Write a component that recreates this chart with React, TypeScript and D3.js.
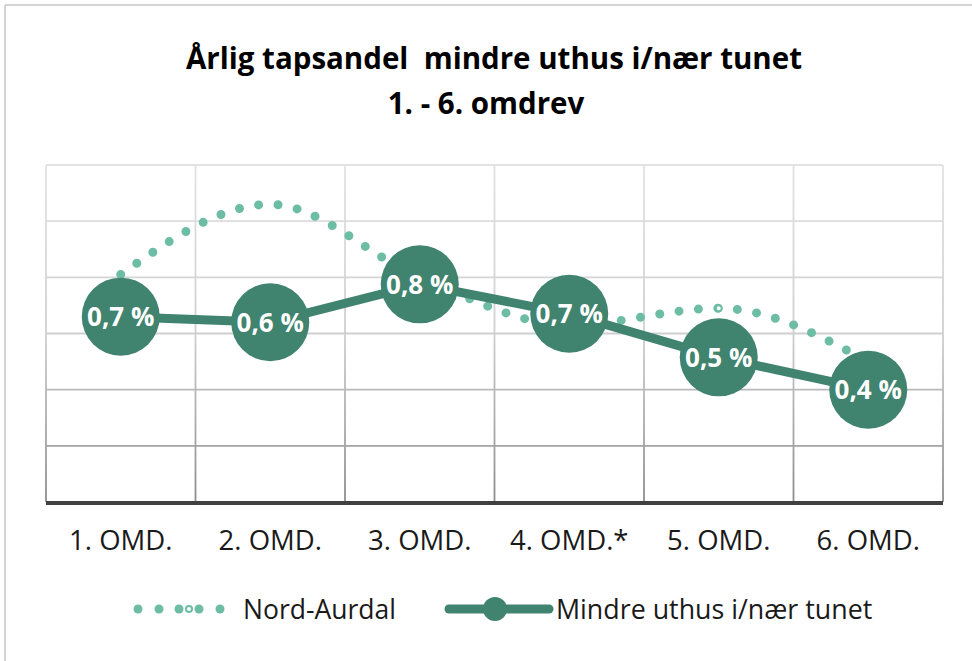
import React from "react";
import * as d3 from "d3";

const categories = ["1. OMD.", "2. OMD.", "3. OMD.", "4. OMD.*", "5. OMD.", "6. OMD."];
const nordAurdal = [0.81, 1.06, 0.80, 0.63, 0.69, 0.50];
const mindreUthus = [0.66, 0.64, 0.775, 0.67, 0.515, 0.40];
const mindreLabels = ["0,7 %", "0,6 %", "0,8 %", "0,7 %", "0,5 %", "0,4 %"];
const yTicks = [0.2, 0.4, 0.6, 0.8, 1.0, 1.2];
const titleLines = ["Årlig tapsandel  mindre uthus i/nær tunet", "1. - 6. omdrev"];
const legendNames = ["Nord-Aurdal", "Mindre uthus i/nær tunet"];

const W = 972;
const H = 661;
const DARK = "#40836f";
const LIGHT = "#6dbda4";
const FONT = "'Open Sans', sans-serif";

export default function App() {
  const x = d3.scaleBand<string>().domain(categories).range([46, 943]).padding(0);
  const y = d3.scaleLinear().domain([0, 1.2]).range([502, 165]);
  const cx = (c: string) => (x(c) as number) + x.bandwidth() / 2;

  const smooth = d3
    .line<number>()
    .x((_, i) => cx(categories[i]))
    .y((d) => y(d))
    .curve(d3.curveMonotoneX);
  const straight = d3
    .line<number>()
    .x((_, i) => cx(categories[i]))
    .y((d) => y(d));

  const bounds = categories.map((c) => x(c) as number).concat([943]);

  return (
    <div style={{ position: "absolute", left: 0, top: 0 }}>
      <svg width={W} height={H} style={{ display: "block", background: "#fff" }}>
        <defs>
          <linearGradient id="gridGrad" gradientUnits="userSpaceOnUse" x1="0" y1="165" x2="0" y2="502">
            <stop offset="0" stopColor="#e2e2e2" />
            <stop offset="0.5" stopColor="#cfcfcf" />
            <stop offset="1" stopColor="#8c8c8c" />
          </linearGradient>
        </defs>
        {/* outer border */}
        <line x1={5} y1={5} x2={W} y2={5} stroke="#d4d4d4" strokeWidth={2} />
        <line x1={5} y1={5} x2={5} y2={H} stroke="#d4d4d4" strokeWidth={2} />

        {/* title */}
        {titleLines.map((t, i) => (
          <text
            key={t}
            x={i === 0 ? 494 : 486}
            y={i === 0 ? 69 : 114}
            textAnchor="middle"
            fontFamily={FONT}
            fontWeight={700}
            fontSize={29.5}
            fill="#000"
            style={{ whiteSpace: "pre" }}
          >
            {t}
          </text>
        ))}

        {/* gridlines */}
        {yTicks.map((t) => (
          <line key={t} x1={46} x2={943} y1={y(t)} y2={y(t)} stroke="url(#gridGrad)" strokeWidth={1.8} />
        ))}
        {bounds.map((b, i) => (
          <line key={i} x1={b} x2={b} y1={165} y2={502} stroke="url(#gridGrad)" strokeWidth={1.8} />
        ))}
        <line x1={46} x2={943} y1={503} y2={503} stroke="#404040" strokeWidth={4} />

        {/* category labels */}
        {categories.map((c) => (
          <text key={c} x={cx(c)} y={550} textAnchor="middle" fontFamily={FONT} fontSize={27.5} fill="#1a1a1a">
            {c}
          </text>
        ))}

        {/* Nord-Aurdal dotted smooth line */}
        <path
          d={smooth(nordAurdal) || ""}
          fill="none"
          stroke={LIGHT}
          strokeWidth={9}
          strokeLinecap="round"
          strokeDasharray="0 19.5"
        />
        <circle cx={cx(categories[4])} cy={y(nordAurdal[4])} r={3} fill="#fff" stroke={LIGHT} strokeWidth={2} />

        {/* Mindre uthus line */}
        <path d={straight(mindreUthus) || ""} fill="none" stroke={DARK} strokeWidth={9} />
        {mindreUthus.map((v, i) => (
          <g key={i}>
            <circle cx={cx(categories[i])} cy={y(v)} r={39} fill={DARK} />
            <text
              x={cx(categories[i])}
              y={y(v) + 9.5}
              textAnchor="middle"
              fontFamily={FONT}
              fontWeight={700}
              fontSize={26}
              fill="#fff"
            >
              {mindreLabels[i]}
            </text>
          </g>
        ))}

        {/* legend */}
        <g>
          {[138, 159, 179, 199, 220].map((lx, i) => (
            <circle key={i} cx={lx} cy={609} r={4.5} fill={LIGHT} />
          ))}
          <circle cx={189} cy={609} r={3} fill="#fff" stroke={LIGHT} strokeWidth={2} />
          <text x={243} y={619} fontFamily={FONT} fontSize={26.5} fill="#1a1a1a">
            {legendNames[0]}
          </text>
          <line x1={449} x2={549} y1={609} y2={609} stroke={DARK} strokeWidth={9} strokeLinecap="round" />
          <circle cx={495} cy={609} r={12} fill={DARK} />
          <text x={556} y={619} fontFamily={FONT} fontSize={26.8} fill="#1a1a1a">
            {legendNames[1]}
          </text>
        </g>
      </svg>
    </div>
  );
}
